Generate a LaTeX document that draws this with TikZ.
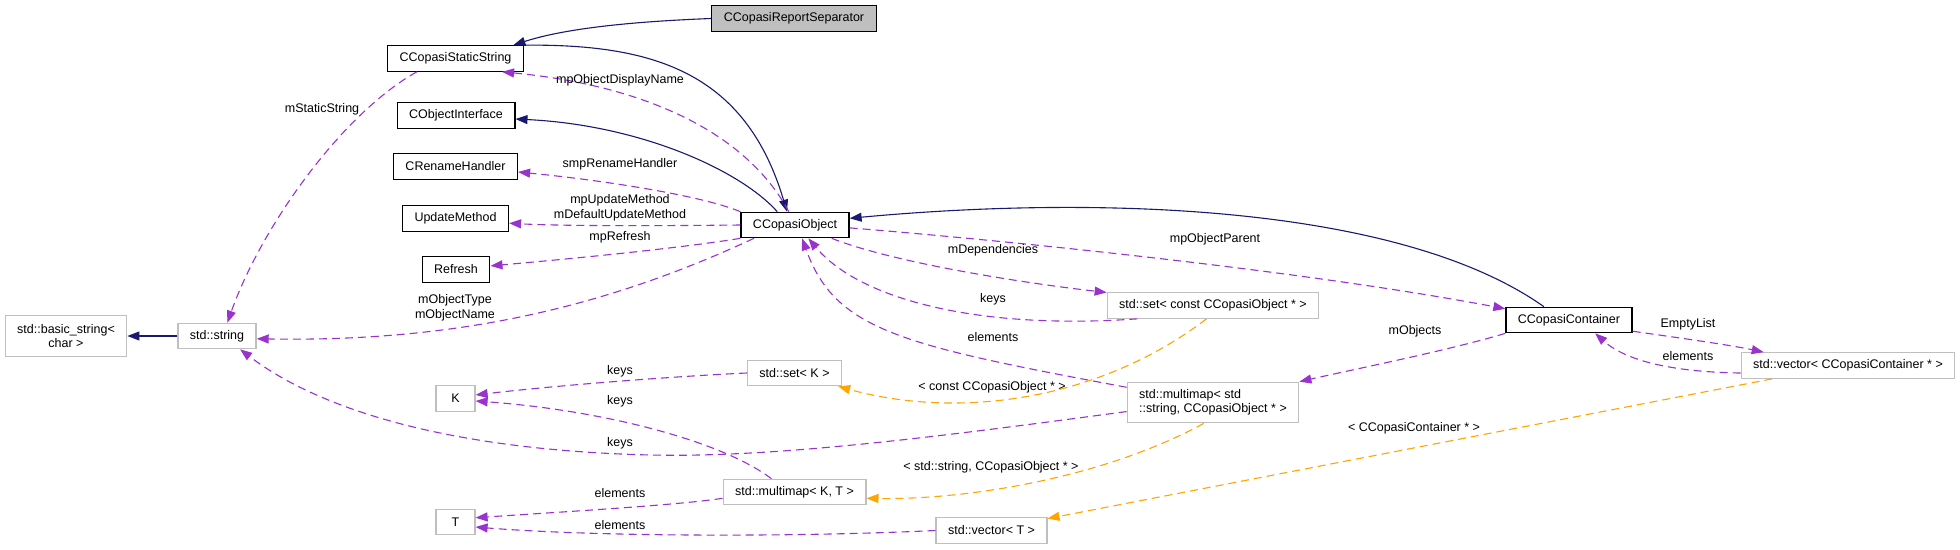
\documentclass[tikz,border=0pt]{standalone}
\usepackage{fontspec}
\setmainfont{Liberation Sans}
\usepackage{tikz}
\usetikzlibrary{arrows.meta}
\definecolor{inhblue}{RGB}{25,25,112}
\definecolor{usepurple}{RGB}{154,50,205}
\definecolor{tmplorange}{RGB}{255,165,0}
\definecolor{extframe}{RGB}{191,191,191}
\definecolor{curfill}{RGB}{191,191,191}
\tikzset{
  cls/.style={draw=black, fill=white, line width=1.2pt, align=center,
    inner xsep=12pt, inner ysep=3pt, minimum height=25.5pt,
    font=\fontsize{12.5}{14.5}\selectfont},
  cur/.style={cls, fill=curfill},
  ext/.style={draw=extframe, fill=white, line width=1.2pt, align=center,
    inner xsep=12pt, inner ysep=3pt, minimum height=25.5pt,
    font=\fontsize{12.5}{14.5}\selectfont},
  lbl/.style={inner sep=0pt, align=center, font=\fontsize{12.5}{14.5}\selectfont},
  inh/.style={-{Triangle[length=12pt,width=9pt]}, line width=1.1pt, draw=inhblue},
  usedby/.style={-{Triangle[length=12pt,width=9pt]}, line width=1.1pt, draw=usepurple,
    dash pattern=on 8pt off 5pt},
  tmpl/.style={-{Triangle[length=12pt,width=9pt]}, line width=1.1pt, draw=tmplorange,
    dash pattern=on 8pt off 5pt},
}
\begin{document}
\begin{tikzpicture}[x=1pt, y=-1pt]
  \useasboundingbox (0,0) rectangle (1960,549);
  \node[cur] (sep) at (794,18.5) {CCopasiReportSeparator};
  \node[cls] (stat) at (455.5,58.5) {CCopasiStaticString};
  \node[cls] (oif) at (456,115.5) {CObjectInterface};
  \node[cls] (ren) at (455.5,166.5) {CRenameHandler};
  \node[cls] (upd) at (455.5,218.5) {UpdateMethod};
  \node[cls] (ref) at (456,269.5) {Refresh};
  \node[cls] (obj) at (795,225) {CCopasiObject};
  \node[cls] (cont) at (1569,320) {CCopasiContainer};
  \node[ext, minimum height=40.5pt] (bstr) at (66,336) {std::basic\_string<\\char >};
  \node[ext] (str) at (217,336) {std::string};
  \node[ext, minimum width=39pt] (K) at (455.5,398.5) {K};
  \node[ext, minimum width=39pt] (T) at (455.5,522) {T};
  \node[ext] (setK) at (794.5,373) {std::set< K >};
  \node[ext] (mmKT) at (794.5,492) {std::multimap< K, T >};
  \node[ext] (vecT) at (991.5,530.5) {std::vector< T >};
  \node[ext] (setObj) at (1213,305.5) {std::set< const CCopasiObject * >};
  \node[ext, minimum height=40.5pt, align=left] (mmObj) at (1213,402.5)
    {std::multimap< std\\::string, CCopasiObject * >};
  \node[ext] (vecC) at (1848,365.5) {std::vector< CCopasiContainer * >};

  \draw[inh] (sep.west) .. controls (620,22) and (560,30) .. (stat.13);
  \draw[inh] (stat.north east) .. controls (650,44) and (745,70) .. (obj.121);
  \draw[inh] (obj.143) .. controls (740,170) and (640,125) .. ([yshift=-3.5pt]oif.east);
  \draw[inh] (cont.152) .. controls (1400,205) and (1100,195) .. (obj.7);
  \draw[inh] (str.west) -- (bstr.east);

  \draw[usedby] (obj.115) .. controls (745,130) and (640,85) .. (stat.-16);
  \draw[usedby] (obj.north west) .. controls (700,195) and (600,180) .. (ren.-5);
  \draw[usedby] (obj.west) .. controls (650,226) and (560,226) .. (upd.-5);
  \draw[usedby] (obj.south west) .. controls (680,248) and (580,258) .. (ref.6);
  \draw[usedby] (obj.-162) .. controls (600,310) and (450,342) .. (str.-4.5);
  \draw[usedby] (stat.-161) .. controls (340,115) and (260,230) .. (str.52);
  \draw[usedby] (setK.west) .. controls (680,376) and (560,385) .. (K.10);
  \draw[usedby] (mmKT.150) .. controls (720,440) and (600,410) .. (K.-7);
  \draw[usedby] (mmObj.-174) .. controls (950,435) and (780,458) .. (650,455)
    .. controls (450,450) and (320,410) .. (str.-30);
  \draw[usedby] (mmKT.-175) .. controls (680,505) and (560,512) .. (T.12);
  \draw[usedby] (vecT.west) .. controls (800,537) and (600,537) .. (T.-14);
  \draw[usedby] (obj.-20) .. controls (900,265) and (1040,285) .. (setObj.173);
  \draw[usedby] (setObj.-170) .. controls (980,330) and (860,300) .. (obj.-45);
  \draw[usedby] (mmObj.170) .. controls (900,345) and (835,330) .. (obj.-62);
  \draw[usedby] (obj.-3) .. controls (1000,240) and (1300,270) .. (cont.170);
  \draw[usedby] (cont.south west) .. controls (1450,350) and (1360,368) .. (mmObj.north east);
  \draw[usedby] (cont.-10) .. controls (1680,338) and (1730,345) .. (vecC.171);
  \draw[usedby] (vecC.-176) .. controls (1670,372) and (1625,360) .. (cont.-27);

  \draw[tmpl] (setObj.-116) .. controls (1100,400) and (960,420) .. (setK.-17);
  \draw[tmpl] (mmObj.-114.5) .. controls (1100,480) and (960,500) .. (mmKT.-5.5);
  \draw[tmpl] (vecC.-170) -- (vecT.12);

  \node[lbl] (lDisp) at (620,80) {mpObjectDisplayName};
  \node[lbl] (lStat) at (322,109) {mStaticString};
  \node[lbl] (lRen) at (620,164) {smpRenameHandler};
  \node[lbl] (lUpd) at (620,208) {mpUpdateMethod\\mDefaultUpdateMethod};
  \node[lbl] (lRef) at (620,237) {mpRefresh};
  \node[lbl] (lName) at (455,308) {mObjectType\\mObjectName};
  \node[lbl] (lKeysA) at (620,371) {keys};
  \node[lbl] (lKeysB) at (620,401) {keys};
  \node[lbl] (lKeysC) at (620,443) {keys};
  \node[lbl] (lElemA) at (620,493) {elements};
  \node[lbl] (lElemB) at (620,525) {elements};
  \node[lbl] (lDep) at (993,250) {mDependencies};
  \node[lbl] (lKeysD) at (993,299) {keys};
  \node[lbl] (lElemC) at (993,337) {elements};
  \node[lbl] (lConstObj) at (992,387) {< const CCopasiObject * >};
  \node[lbl] (lStrObj) at (991,467) {< std::string, CCopasiObject * >};
  \node[lbl] (lParent) at (1215,239) {mpObjectParent};
  \node[lbl] (lObjs) at (1415,331) {mObjects};
  \node[lbl] (lEmpty) at (1688,324) {EmptyList};
  \node[lbl] (lElemD) at (1688,356) {elements};
  \node[lbl] (lCont) at (1414,428) {< CCopasiContainer * >};
\end{tikzpicture}
\end{document}
